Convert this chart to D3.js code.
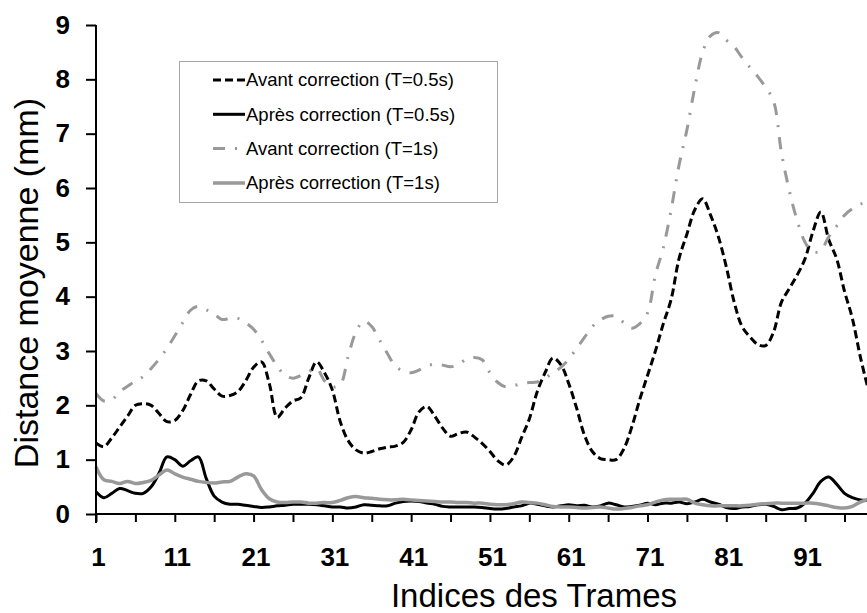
<!DOCTYPE html>
<html>
<head>
<meta charset="utf-8">
<script src="https://cdn.jsdelivr.net/npm/d3@7"></script>
<style>
  html, body { margin: 0; padding: 0; background: #fff; }
  svg { display: block; font-family: "Liberation Sans", Arial, sans-serif; }
</style>
</head>
<body>
<svg id="chart" width="867" height="613"></svg>
<script>
// Frame indices 1..99
const frames = d3.range(1, 100);

// Mean distance (mm) per frame, for each series
const avant05 = [
  1.31, 1.24, 1.40, 1.60, 1.80, 2.00, 2.03, 2.00, 1.85, 1.70,
  1.72, 1.90, 2.20, 2.45, 2.45, 2.30, 2.17, 2.18, 2.25, 2.45,
  2.70, 2.80, 2.40, 1.78, 1.95, 2.08, 2.14, 2.50, 2.80, 2.60,
  2.28, 1.70, 1.35, 1.18, 1.12, 1.15, 1.20, 1.23, 1.25, 1.32,
  1.55, 1.88, 1.98, 1.80, 1.58, 1.43, 1.48, 1.51, 1.42, 1.30,
  1.15, 0.98, 0.90, 1.05, 1.40, 1.75, 2.25, 2.60, 2.87, 2.75,
  2.40, 1.95, 1.45, 1.15, 1.02, 1.00, 1.00, 1.20, 1.60, 2.10,
  2.55, 3.00, 3.50, 3.95, 4.70, 5.15, 5.60, 5.80, 5.50, 5.10,
  4.55, 3.90, 3.45, 3.26, 3.12, 3.10, 3.35, 3.90, 4.15, 4.40,
  4.70, 5.20, 5.56, 5.05, 4.70, 4.10, 3.60, 2.90, 2.30
];
const apres05 = [
  0.41, 0.30, 0.38, 0.47, 0.43, 0.38, 0.38, 0.50, 0.75, 1.05,
  1.00, 0.88, 0.98, 1.05, 0.65, 0.33, 0.22, 0.18, 0.18, 0.16,
  0.14, 0.12, 0.13, 0.15, 0.16, 0.18, 0.18, 0.18, 0.17, 0.15,
  0.13, 0.13, 0.11, 0.13, 0.17, 0.16, 0.15, 0.15, 0.20, 0.23,
  0.24, 0.23, 0.20, 0.18, 0.14, 0.13, 0.13, 0.13, 0.13, 0.12,
  0.10, 0.09, 0.10, 0.13, 0.15, 0.20, 0.18, 0.15, 0.13, 0.15,
  0.17, 0.15, 0.16, 0.13, 0.15, 0.20, 0.17, 0.13, 0.14, 0.16,
  0.20, 0.17, 0.20, 0.20, 0.22, 0.19, 0.22, 0.27, 0.22, 0.18,
  0.12, 0.10, 0.13, 0.14, 0.17, 0.18, 0.14, 0.08, 0.10, 0.11,
  0.20, 0.38, 0.60, 0.68, 0.55, 0.38, 0.30, 0.26, 0.25
];
const avant1 = [
  2.22, 2.08, 2.10, 2.25, 2.35, 2.45, 2.53, 2.68, 2.85, 3.05,
  3.28, 3.52, 3.75, 3.82, 3.76, 3.68, 3.58, 3.60, 3.60, 3.52,
  3.40, 3.20, 2.95, 2.72, 2.55, 2.50, 2.55, 2.62, 2.68, 2.45,
  2.34, 2.38, 2.90, 3.35, 3.55, 3.45, 3.20, 2.95, 2.72, 2.63,
  2.60, 2.65, 2.72, 2.76, 2.74, 2.71, 2.75, 2.85, 2.88, 2.84,
  2.60, 2.42, 2.34, 2.36, 2.40, 2.42, 2.43, 2.50, 2.60, 2.70,
  2.85, 3.05, 3.25, 3.45, 3.57, 3.64, 3.64, 3.52, 3.42, 3.50,
  3.70, 4.40, 4.90, 5.60, 6.42, 7.07, 7.85, 8.50, 8.80, 8.86,
  8.72, 8.60, 8.40, 8.22, 8.05, 7.85, 7.60, 6.65, 5.95, 5.40,
  5.00, 4.82, 4.85, 5.10, 5.30, 5.50, 5.62, 5.70, 5.75
];
const apres1 = [
  0.87, 0.63, 0.60, 0.56, 0.60, 0.56, 0.58, 0.62, 0.72, 0.81,
  0.74, 0.68, 0.64, 0.60, 0.58, 0.57, 0.59, 0.60, 0.68, 0.74,
  0.70, 0.45, 0.28, 0.22, 0.21, 0.22, 0.22, 0.20, 0.20, 0.21,
  0.21, 0.25, 0.30, 0.32, 0.30, 0.29, 0.27, 0.26, 0.26, 0.27,
  0.26, 0.25, 0.24, 0.23, 0.22, 0.22, 0.21, 0.21, 0.20, 0.20,
  0.18, 0.17, 0.17, 0.19, 0.22, 0.21, 0.20, 0.17, 0.14, 0.13,
  0.13, 0.12, 0.11, 0.12, 0.13, 0.11, 0.09, 0.10, 0.12, 0.15,
  0.17, 0.22, 0.26, 0.27, 0.27, 0.27, 0.20, 0.17, 0.15, 0.15,
  0.15, 0.15, 0.15, 0.16, 0.18, 0.19, 0.20, 0.20, 0.20, 0.20,
  0.20, 0.20, 0.18, 0.15, 0.12, 0.11, 0.14, 0.22, 0.27
];

const seriesNames = [
  "Avant correction (T=0.5s)",
  "Après correction (T=0.5s)",
  "Avant correction (T=1s)",
  "Après correction (T=1s)"
];
const yTicks = d3.range(0, 10);
const xTicks = d3.range(1, 100, 5);

const xTitle = "Indices des Trames";
const yTitle = "Distance moyenne (mm)";

// Line styles for each series
const styles = [
  { color: "#000000", width: 3, dash: "8,4" },
  { color: "#000000", width: 3, dash: null },
  { color: "#999999", width: 3, dash: "12,10,2,10" },
  { color: "#999999", width: 3.5, dash: null }
];
const values = [avant05, apres05, avant1, apres1];

const svg = d3.select("#chart");

const x = d3.scaleLinear().domain([1, 100]).range([96, 876]);
const y = d3.scaleLinear().domain([0, 9]).range([514, 25]);

// Series lines
const line = d3.line()
  .x((d, i) => x(frames[i]))
  .y(d => y(d))
  .curve(d3.curveCatmullRom.alpha(0.5));

const plot = svg.append("g");
values.forEach((vals, k) => {
  const s = styles[k];
  plot.append("path")
    .datum(vals)
    .attr("d", line)
    .attr("fill", "none")
    .attr("stroke", s.color)
    .attr("stroke-width", s.width)
    .attr("stroke-dasharray", s.dash)
    .attr("stroke-linejoin", "round");
});

// Y axis
const yAxis = svg.append("g")
  .attr("transform", `translate(${x(1)},0)`)
  .call(d3.axisLeft(y).tickValues(yTicks).tickSize(10).tickSizeOuter(0).tickPadding(16));
yAxis.select(".domain").attr("stroke", "#000").attr("stroke-width", 2)
  .attr("d", `M0,${y(9)}V${y(0) + 9}`);
yAxis.selectAll(".tick line").attr("stroke", "#000").attr("stroke-width", 2);
yAxis.selectAll(".tick text")
  .attr("fill", "#000")
  .style("font-size", "26px")
  .style("font-weight", "bold")
  .style("font-family", "'Liberation Sans', Arial, sans-serif");

// X axis
const xAxis = svg.append("g")
  .attr("transform", `translate(0,${y(0)})`)
  .call(d3.axisBottom(x).tickValues(xTicks).tickSize(8).tickSizeOuter(0).tickPadding(26)
    .tickFormat(d => ((d - 1) % 10 === 0 ? String(d) : "")));
xAxis.select(".domain").attr("stroke", "#000").attr("stroke-width", 2)
  .attr("d", `M${x(1)},0H867`);
xAxis.selectAll(".tick line").attr("stroke", "#000").attr("stroke-width", 2);
xAxis.selectAll(".tick text")
  .attr("fill", "#000")
  .attr("dx", "2")
  .style("font-size", "26px")
  .style("font-weight", "bold")
  .style("font-family", "'Liberation Sans', Arial, sans-serif");

// Axis titles
svg.append("text")
  .attr("x", 534).attr("y", 607)
  .attr("text-anchor", "middle")
  .style("font-size", "33px")
  .text(xTitle);

svg.append("text")
  .attr("transform", "translate(38,283) rotate(-90)")
  .attr("text-anchor", "middle")
  .style("font-size", "34px")
  .text(yTitle);

// Legend
const legend = svg.append("g");
legend.append("rect")
  .attr("x", 179.5).attr("y", 61.5)
  .attr("width", 318).attr("height", 141)
  .attr("fill", "#fff")
  .attr("stroke", "#a6a6a6")
  .attr("stroke-width", 1);

const rowY = [80, 114.3, 148.6, 183];
seriesNames.forEach((name, k) => {
  const s = styles[k];
  legend.append("line")
    .attr("x1", 213).attr("x2", 245)
    .attr("y1", rowY[k]).attr("y2", rowY[k])
    .attr("stroke", s.color)
    .attr("stroke-width", s.width)
    .attr("stroke-dasharray", s.dash);
  legend.append("text")
    .attr("x", 246).attr("y", rowY[k])
    .attr("dy", "0.35em")
    .style("font-size", "18.5px")
    .text(name);
});
</script>
</body>
</html>
